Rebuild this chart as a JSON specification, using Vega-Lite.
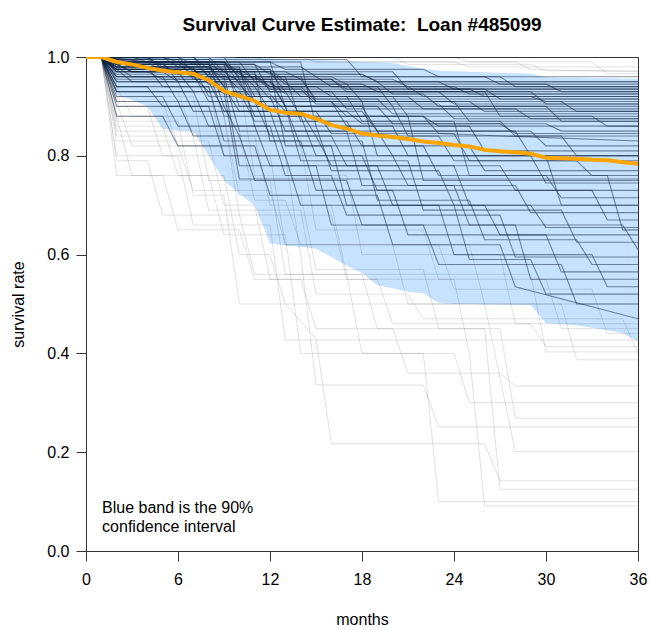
{
"$schema":"https://vega.github.io/schema/vega-lite/v6.json",
"width":552,"height":494,
"autosize":"none",
"padding":{"left":86,"top":57,"right":12,"bottom":79},
"title":{"text":"Survival Curve Estimate:\u00a0 Loan #485099","font":"Liberation Sans","fontSize":19,"fontWeight":"bold","color":"#000","anchor":"middle","frame":"group","baseline":"bottom","offset":-5},
"datasets":{
"band":[
{"m":0,"lo":1,"hi":1},{"m":1,"lo":1,"hi":1},{"m":2,"lo":0.923,"hi":1},{"m":3,"lo":0.913,"hi":1},{"m":4,"lo":0.9,"hi":1},{"m":5,"lo":0.855,"hi":1},{"m":6,"lo":0.851,"hi":1},{"m":7,"lo":0.849,"hi":1},{"m":8,"lo":0.8,"hi":1},{"m":9,"lo":0.75,"hi":0.999},{"m":10,"lo":0.723,"hi":0.998},{"m":11,"lo":0.7,"hi":0.998},{"m":12,"lo":0.623,"hi":0.997},{"m":13,"lo":0.618,"hi":0.996},{"m":14,"lo":0.616,"hi":0.995},{"m":15,"lo":0.612,"hi":0.994},{"m":16,"lo":0.595,"hi":0.993},{"m":17,"lo":0.578,"hi":0.992},{"m":18,"lo":0.563,"hi":0.99},{"m":19,"lo":0.538,"hi":0.989},{"m":20,"lo":0.532,"hi":0.988},{"m":21,"lo":0.525,"hi":0.982},{"m":22,"lo":0.522,"hi":0.976},{"m":23,"lo":0.502,"hi":0.972},{"m":24,"lo":0.5,"hi":0.971},{"m":25,"lo":0.5,"hi":0.97},{"m":26,"lo":0.499,"hi":0.969},{"m":27,"lo":0.499,"hi":0.968},{"m":28,"lo":0.498,"hi":0.967},{"m":29,"lo":0.498,"hi":0.966},{"m":30,"lo":0.461,"hi":0.959},{"m":31,"lo":0.459,"hi":0.958},{"m":32,"lo":0.457,"hi":0.958},{"m":33,"lo":0.452,"hi":0.957},{"m":34,"lo":0.447,"hi":0.957},{"m":35,"lo":0.441,"hi":0.956},{"m":36,"lo":0.424,"hi":0.956}],
"median":[
{"m":0,"s":1},{"m":1,"s":1},{"m":2,"s":0.99},{"m":3,"s":0.985},{"m":4,"s":0.978},{"m":5,"s":0.972},{"m":6,"s":0.969},{"m":7,"s":0.966},{"m":8,"s":0.953},{"m":9,"s":0.931},{"m":10,"s":0.921},{"m":11,"s":0.911},{"m":12,"s":0.893},{"m":13,"s":0.887},{"m":14,"s":0.885},{"m":15,"s":0.875},{"m":16,"s":0.862},{"m":17,"s":0.855},{"m":18,"s":0.845},{"m":19,"s":0.841},{"m":20,"s":0.838},{"m":21,"s":0.834},{"m":22,"s":0.829},{"m":23,"s":0.826},{"m":24,"s":0.822},{"m":25,"s":0.819},{"m":26,"s":0.812},{"m":27,"s":0.809},{"m":28,"s":0.807},{"m":29,"s":0.804},{"m":30,"s":0.796},{"m":31,"s":0.795},{"m":32,"s":0.794},{"m":33,"s":0.792},{"m":34,"s":0.791},{"m":35,"s":0.787},{"m":36,"s":0.784}],
"outer":[
{"c":"O1","m":0,"s":1},{"c":"O1","m":1,"s":1},{"c":"O1","m":2,"s":0.8},{"c":"O1","m":6,"s":0.8},{"c":"O1","m":7,"s":0.66},{"c":"O1","m":12,"s":0.66},{"c":"O1","m":13,"s":0.427},{"c":"O1","m":36,"s":0.427},
{"c":"O2","m":0,"s":1},{"c":"O2","m":1,"s":1},{"c":"O2","m":2,"s":0.86},{"c":"O2","m":5,"s":0.86},{"c":"O2","m":6,"s":0.76},{"c":"O2","m":9,"s":0.76},{"c":"O2","m":10,"s":0.6},{"c":"O2","m":12,"s":0.6},{"c":"O2","m":13,"s":0.5},{"c":"O2","m":15,"s":0.43},{"c":"O2","m":16,"s":0.217},{"c":"O2","m":26,"s":0.217},{"c":"O2","m":27,"s":0.142},{"c":"O2","m":36,"s":0.142},
{"c":"O3","m":0,"s":1},{"c":"O3","m":1,"s":1},{"c":"O3","m":3,"s":0.76},{"c":"O3","m":8,"s":0.76},{"c":"O3","m":9,"s":0.64},{"c":"O3","m":13,"s":0.64},{"c":"O3","m":14,"s":0.4},{"c":"O3","m":22,"s":0.4},{"c":"O3","m":23,"s":0.1},{"c":"O3","m":36,"s":0.1},
{"c":"O4","m":0,"s":1},{"c":"O4","m":1,"s":1},{"c":"O4","m":2,"s":0.9},{"c":"O4","m":4,"s":0.9},{"c":"O4","m":5,"s":0.8},{"c":"O4","m":13,"s":0.8},{"c":"O4","m":14,"s":0.6},{"c":"O4","m":15,"s":0.336},{"c":"O4","m":22,"s":0.336},{"c":"O4","m":23,"s":0.251},{"c":"O4","m":36,"s":0.251},
{"c":"O5","m":0,"s":1},{"c":"O5","m":1,"s":1},{"c":"O5","m":2,"s":0.83},{"c":"O5","m":8,"s":0.83},{"c":"O5","m":9,"s":0.7},{"c":"O5","m":11,"s":0.7},{"c":"O5","m":12,"s":0.55},{"c":"O5","m":19,"s":0.55},{"c":"O5","m":20,"s":0.46},{"c":"O5","m":29,"s":0.46},{"c":"O5","m":30,"s":0.414},{"c":"O5","m":36,"s":0.414},
{"c":"O6","m":0,"s":1},{"c":"O6","m":1,"s":1},{"c":"O6","m":2,"s":0.92},{"c":"O6","m":7,"s":0.92},{"c":"O6","m":8,"s":0.75},{"c":"O6","m":12,"s":0.75},{"c":"O6","m":13,"s":0.56},{"c":"O6","m":17,"s":0.56},{"c":"O6","m":18,"s":0.4},{"c":"O6","m":24,"s":0.4},{"c":"O6","m":25,"s":0.3},{"c":"O6","m":36,"s":0.3},
{"c":"O7","m":0,"s":1},{"c":"O7","m":1,"s":1},{"c":"O7","m":3,"s":0.88},{"c":"O7","m":9,"s":0.88},{"c":"O7","m":10,"s":0.72},{"c":"O7","m":14,"s":0.72},{"c":"O7","m":15,"s":0.57},{"c":"O7","m":22,"s":0.57},{"c":"O7","m":23,"s":0.45},{"c":"O7","m":27,"s":0.45},{"c":"O7","m":28,"s":0.269},{"c":"O7","m":36,"s":0.269},
{"c":"O8","m":0,"s":1},{"c":"O8","m":1,"s":1},{"c":"O8","m":2,"s":0.94},{"c":"O8","m":8,"s":0.94},{"c":"O8","m":9,"s":0.8},{"c":"O8","m":12,"s":0.8},{"c":"O8","m":13,"s":0.62},{"c":"O8","m":20,"s":0.62},{"c":"O8","m":21,"s":0.5},{"c":"O8","m":26,"s":0.5},{"c":"O8","m":28,"s":0.201},{"c":"O8","m":36,"s":0.201},
{"c":"O9","m":0,"s":1},{"c":"O9","m":1,"s":1},{"c":"O9","m":2,"s":0.79},{"c":"O9","m":4,"s":0.79},{"c":"O9","m":5,"s":0.68},{"c":"O9","m":10,"s":0.68},{"c":"O9","m":11,"s":0.56},{"c":"O9","m":18,"s":0.56},{"c":"O9","m":19,"s":0.45},{"c":"O9","m":26,"s":0.45},{"c":"O9","m":27,"s":0.125},{"c":"O9","m":36,"s":0.125},
{"c":"O10","m":0,"s":1},{"c":"O10","m":1,"s":1},{"c":"O10","m":2,"s":0.88},{"c":"O10","m":9,"s":0.88},{"c":"O10","m":10,"s":0.68},{"c":"O10","m":16,"s":0.68},{"c":"O10","m":17,"s":0.55},{"c":"O10","m":24,"s":0.55},{"c":"O10","m":25,"s":0.4},{"c":"O10","m":26,"s":0.091},{"c":"O10","m":36,"s":0.091},
{"c":"O11","m":0,"s":1},{"c":"O11","m":1,"s":1},{"c":"O11","m":2,"s":0.93},{"c":"O11","m":6,"s":0.93},{"c":"O11","m":7,"s":0.84},{"c":"O11","m":11,"s":0.84},{"c":"O11","m":12,"s":0.7},{"c":"O11","m":16,"s":0.7},{"c":"O11","m":17,"s":0.56},{"c":"O11","m":29,"s":0.56},{"c":"O11","m":30,"s":0.403},{"c":"O11","m":36,"s":0.403},
{"c":"O12","m":0,"s":1},{"c":"O12","m":1,"s":1},{"c":"O12","m":2,"s":0.85},{"c":"O12","m":10,"s":0.85},{"c":"O12","m":11,"s":0.71},{"c":"O12","m":13,"s":0.71},{"c":"O12","m":14,"s":0.62},{"c":"O12","m":25,"s":0.62},{"c":"O12","m":26,"s":0.5},{"c":"O12","m":31,"s":0.5},{"c":"O12","m":32,"s":0.387},{"c":"O12","m":36,"s":0.387},
{"c":"O13","m":0,"s":1},{"c":"O13","m":1,"s":1},{"c":"O13","m":3,"s":0.82},{"c":"O13","m":6,"s":0.82},{"c":"O13","m":7,"s":0.73},{"c":"O13","m":12,"s":0.73},{"c":"O13","m":13,"s":0.62},{"c":"O13","m":23,"s":0.62},{"c":"O13","m":24,"s":0.53},{"c":"O13","m":33,"s":0.53},{"c":"O13","m":34,"s":0.44},{"c":"O13","m":36,"s":0.44},
{"c":"O14","m":0,"s":1},{"c":"O14","m":1,"s":1},{"c":"O14","m":2,"s":0.87},{"c":"O14","m":6,"s":0.87},{"c":"O14","m":7,"s":0.72},{"c":"O14","m":9,"s":0.72},{"c":"O14","m":10,"s":0.5},{"c":"O14","m":36,"s":0.5},
{"c":"O15","m":0,"s":1},{"c":"O15","m":1,"s":1},{"c":"O15","m":2,"s":0.76},{"c":"O15","m":5,"s":0.76},{"c":"O15","m":6,"s":0.65},{"c":"O15","m":10,"s":0.65},{"c":"O15","m":11,"s":0.55},{"c":"O15","m":14,"s":0.55},{"c":"O15","m":15,"s":0.45},{"c":"O15","m":20,"s":0.45},{"c":"O15","m":21,"s":0.36},{"c":"O15","m":27,"s":0.36},{"c":"O15","m":28,"s":0.334},{"c":"O15","m":36,"s":0.334},
{"c":"O16","m":0,"s":1},{"c":"O16","m":1,"s":1},{"c":"O16","m":2,"s":0.91},{"c":"O16","m":5,"s":0.91},{"c":"O16","m":6,"s":0.82},{"c":"O16","m":14,"s":0.82},{"c":"O16","m":15,"s":0.65},{"c":"O16","m":22,"s":0.65},{"c":"O16","m":23,"s":0.55},{"c":"O16","m":30,"s":0.55},{"c":"O16","m":31,"s":0.45},{"c":"O16","m":36,"s":0.45},
{"c":"O17","m":0,"s":1},{"c":"O17","m":1,"s":1},{"c":"O17","m":2,"s":0.84},{"c":"O17","m":7,"s":0.84},{"c":"O17","m":8,"s":0.69},{"c":"O17","m":14,"s":0.69},{"c":"O17","m":15,"s":0.52},{"c":"O17","m":21,"s":0.52},{"c":"O17","m":22,"s":0.47},{"c":"O17","m":35,"s":0.47},{"c":"O17","m":36,"s":0.4},
{"c":"O18","m":0,"s":1},{"c":"O18","m":1,"s":1},{"c":"O18","m":2,"s":0.95},{"c":"O18","m":10,"s":0.95},{"c":"O18","m":11,"s":0.76},{"c":"O18","m":17,"s":0.76},{"c":"O18","m":18,"s":0.6},{"c":"O18","m":27,"s":0.6},{"c":"O18","m":28,"s":0.46},{"c":"O18","m":36,"s":0.46},
{"c":"U1","m":0,"s":1},{"c":"U1","m":1,"s":1},{"c":"U1","m":14,"s":1},{"c":"U1","m":15,"s":0.99},{"c":"U1","m":24,"s":0.99},{"c":"U1","m":25,"s":0.98},{"c":"U1","m":36,"s":0.98},
{"c":"U2","m":0,"s":1},{"c":"U2","m":1,"s":1},{"c":"U2","m":20,"s":1},{"c":"U2","m":21,"s":0.985},{"c":"U2","m":29,"s":0.985},{"c":"U2","m":30,"s":0.972},{"c":"U2","m":36,"s":0.972},
{"c":"U3","m":0,"s":1},{"c":"U3","m":1,"s":1},{"c":"U3","m":11,"s":1},{"c":"U3","m":12,"s":0.99},{"c":"U3","m":28,"s":0.99},{"c":"U3","m":29,"s":0.975},{"c":"U3","m":36,"s":0.97},
{"c":"U4","m":0,"s":1},{"c":"U4","m":1,"s":1},{"c":"U4","m":24,"s":1},{"c":"U4","m":25,"s":0.99},{"c":"U4","m":33,"s":0.99},{"c":"U4","m":34,"s":0.966},{"c":"U4","m":36,"s":0.966}],
"inner":[
{"c":"I1","m":0,"s":1},{"c":"I1","m":1,"s":1},{"c":"I1","m":3,"s":1},{"c":"I1","m":4,"s":0.99},{"c":"I1","m":12,"s":0.99},{"c":"I1","m":13,"s":0.975},{"c":"I1","m":22,"s":0.975},{"c":"I1","m":23,"s":0.96},{"c":"I1","m":36,"s":0.96},
{"c":"I2","m":0,"s":1},{"c":"I2","m":1,"s":1},{"c":"I2","m":2,"s":0.985},{"c":"I2","m":9,"s":0.985},{"c":"I2","m":10,"s":0.965},{"c":"I2","m":18,"s":0.965},{"c":"I2","m":19,"s":0.95},{"c":"I2","m":36,"s":0.95},
{"c":"I3","m":0,"s":1},{"c":"I3","m":1,"s":1},{"c":"I3","m":5,"s":1},{"c":"I3","m":6,"s":0.98},{"c":"I3","m":14,"s":0.98},{"c":"I3","m":15,"s":0.96},{"c":"I3","m":27,"s":0.96},{"c":"I3","m":28,"s":0.94},{"c":"I3","m":36,"s":0.94},
{"c":"I4","m":0,"s":1},{"c":"I4","m":1,"s":1},{"c":"I4","m":2,"s":0.99},{"c":"I4","m":7,"s":0.99},{"c":"I4","m":8,"s":0.96},{"c":"I4","m":16,"s":0.96},{"c":"I4","m":17,"s":0.945},{"c":"I4","m":30,"s":0.945},{"c":"I4","m":31,"s":0.93},{"c":"I4","m":36,"s":0.93},
{"c":"I5","m":0,"s":1},{"c":"I5","m":1,"s":1},{"c":"I5","m":8,"s":1},{"c":"I5","m":9,"s":0.97},{"c":"I5","m":20,"s":0.97},{"c":"I5","m":21,"s":0.935},{"c":"I5","m":36,"s":0.935},
{"c":"I6","m":0,"s":1},{"c":"I6","m":1,"s":1},{"c":"I6","m":2,"s":0.975},{"c":"I6","m":6,"s":0.975},{"c":"I6","m":7,"s":0.96},{"c":"I6","m":11,"s":0.96},{"c":"I6","m":12,"s":0.935},{"c":"I6","m":25,"s":0.935},{"c":"I6","m":26,"s":0.92},{"c":"I6","m":36,"s":0.92},
{"c":"I7","m":0,"s":1},{"c":"I7","m":1,"s":1},{"c":"I7","m":3,"s":0.99},{"c":"I7","m":10,"s":0.99},{"c":"I7","m":11,"s":0.95},{"c":"I7","m":19,"s":0.95},{"c":"I7","m":20,"s":0.925},{"c":"I7","m":36,"s":0.925},
{"c":"I8","m":0,"s":1},{"c":"I8","m":1,"s":1},{"c":"I8","m":2,"s":0.98},{"c":"I8","m":8,"s":0.98},{"c":"I8","m":9,"s":0.94},{"c":"I8","m":15,"s":0.94},{"c":"I8","m":16,"s":0.92},{"c":"I8","m":29,"s":0.92},{"c":"I8","m":30,"s":0.91},{"c":"I8","m":36,"s":0.91},
{"c":"I9","m":0,"s":1},{"c":"I9","m":1,"s":1},{"c":"I9","m":6,"s":1},{"c":"I9","m":7,"s":0.97},{"c":"I9","m":12,"s":0.97},{"c":"I9","m":13,"s":0.93},{"c":"I9","m":23,"s":0.93},{"c":"I9","m":24,"s":0.905},{"c":"I9","m":36,"s":0.905},
{"c":"I10","m":0,"s":1},{"c":"I10","m":1,"s":1},{"c":"I10","m":2,"s":0.97},{"c":"I10","m":5,"s":0.97},{"c":"I10","m":6,"s":0.95},{"c":"I10","m":13,"s":0.95},{"c":"I10","m":14,"s":0.92},{"c":"I10","m":21,"s":0.92},{"c":"I10","m":22,"s":0.895},{"c":"I10","m":36,"s":0.895},
{"c":"I11","m":0,"s":1},{"c":"I11","m":1,"s":1},{"c":"I11","m":4,"s":0.99},{"c":"I11","m":9,"s":0.99},{"c":"I11","m":10,"s":0.945},{"c":"I11","m":17,"s":0.945},{"c":"I11","m":18,"s":0.91},{"c":"I11","m":31,"s":0.91},{"c":"I11","m":32,"s":0.89},{"c":"I11","m":36,"s":0.89},
{"c":"I12","m":0,"s":1},{"c":"I12","m":1,"s":1},{"c":"I12","m":2,"s":0.985},{"c":"I12","m":11,"s":0.985},{"c":"I12","m":12,"s":0.93},{"c":"I12","m":26,"s":0.93},{"c":"I12","m":27,"s":0.88},{"c":"I12","m":36,"s":0.88},
{"c":"I13","m":0,"s":1},{"c":"I13","m":1,"s":1},{"c":"I13","m":3,"s":0.97},{"c":"I13","m":8,"s":0.97},{"c":"I13","m":9,"s":0.93},{"c":"I13","m":16,"s":0.93},{"c":"I13","m":17,"s":0.895},{"c":"I13","m":28,"s":0.895},{"c":"I13","m":29,"s":0.875},{"c":"I13","m":36,"s":0.875},
{"c":"I14","m":0,"s":1},{"c":"I14","m":1,"s":1},{"c":"I14","m":7,"s":1},{"c":"I14","m":8,"s":0.96},{"c":"I14","m":14,"s":0.96},{"c":"I14","m":15,"s":0.91},{"c":"I14","m":24,"s":0.91},{"c":"I14","m":25,"s":0.87},{"c":"I14","m":36,"s":0.87},
{"c":"I15","m":0,"s":1},{"c":"I15","m":1,"s":1},{"c":"I15","m":2,"s":0.975},{"c":"I15","m":9,"s":0.975},{"c":"I15","m":10,"s":0.92},{"c":"I15","m":20,"s":0.92},{"c":"I15","m":21,"s":0.88},{"c":"I15","m":33,"s":0.88},{"c":"I15","m":34,"s":0.86},{"c":"I15","m":36,"s":0.86},
{"c":"I16","m":0,"s":1},{"c":"I16","m":1,"s":1},{"c":"I16","m":2,"s":0.99},{"c":"I16","m":5,"s":0.99},{"c":"I16","m":6,"s":0.95},{"c":"I16","m":12,"s":0.95},{"c":"I16","m":13,"s":0.9},{"c":"I16","m":19,"s":0.9},{"c":"I16","m":20,"s":0.865},{"c":"I16","m":30,"s":0.865},{"c":"I16","m":31,"s":0.85},{"c":"I16","m":36,"s":0.85},
{"c":"I17","m":0,"s":1},{"c":"I17","m":1,"s":1},{"c":"I17","m":4,"s":1},{"c":"I17","m":5,"s":0.975},{"c":"I17","m":10,"s":0.975},{"c":"I17","m":11,"s":0.92},{"c":"I17","m":17,"s":0.92},{"c":"I17","m":18,"s":0.87},{"c":"I17","m":27,"s":0.87},{"c":"I17","m":28,"s":0.84},{"c":"I17","m":36,"s":0.84},
{"c":"I18","m":0,"s":1},{"c":"I18","m":1,"s":1},{"c":"I18","m":2,"s":0.96},{"c":"I18","m":7,"s":0.96},{"c":"I18","m":8,"s":0.93},{"c":"I18","m":13,"s":0.93},{"c":"I18","m":14,"s":0.88},{"c":"I18","m":22,"s":0.88},{"c":"I18","m":23,"s":0.845},{"c":"I18","m":36,"s":0.83},
{"c":"I19","m":0,"s":1},{"c":"I19","m":1,"s":1},{"c":"I19","m":3,"s":0.985},{"c":"I19","m":8,"s":0.985},{"c":"I19","m":9,"s":0.94},{"c":"I19","m":11,"s":0.94},{"c":"I19","m":12,"s":0.89},{"c":"I19","m":18,"s":0.89},{"c":"I19","m":19,"s":0.85},{"c":"I19","m":29,"s":0.85},{"c":"I19","m":30,"s":0.82},{"c":"I19","m":36,"s":0.82},
{"c":"I20","m":0,"s":1},{"c":"I20","m":1,"s":1},{"c":"I20","m":2,"s":0.97},{"c":"I20","m":10,"s":0.97},{"c":"I20","m":11,"s":0.91},{"c":"I20","m":16,"s":0.91},{"c":"I20","m":17,"s":0.86},{"c":"I20","m":25,"s":0.86},{"c":"I20","m":26,"s":0.81},{"c":"I20","m":36,"s":0.81},
{"c":"I21","m":0,"s":1},{"c":"I21","m":1,"s":1},{"c":"I21","m":6,"s":0.995},{"c":"I21","m":7,"s":0.955},{"c":"I21","m":12,"s":0.955},{"c":"I21","m":13,"s":0.9},{"c":"I21","m":20,"s":0.9},{"c":"I21","m":21,"s":0.84},{"c":"I21","m":31,"s":0.84},{"c":"I21","m":32,"s":0.8},{"c":"I21","m":36,"s":0.8},
{"c":"I22","m":0,"s":1},{"c":"I22","m":1,"s":1},{"c":"I22","m":2,"s":0.98},{"c":"I22","m":4,"s":0.98},{"c":"I22","m":5,"s":0.94},{"c":"I22","m":9,"s":0.94},{"c":"I22","m":10,"s":0.89},{"c":"I22","m":15,"s":0.89},{"c":"I22","m":16,"s":0.845},{"c":"I22","m":24,"s":0.845},{"c":"I22","m":25,"s":0.79},{"c":"I22","m":36,"s":0.79},
{"c":"I23","m":0,"s":1},{"c":"I23","m":1,"s":1},{"c":"I23","m":2,"s":0.99},{"c":"I23","m":12,"s":0.99},{"c":"I23","m":13,"s":0.9},{"c":"I23","m":18,"s":0.9},{"c":"I23","m":19,"s":0.85},{"c":"I23","m":28,"s":0.85},{"c":"I23","m":29,"s":0.8},{"c":"I23","m":36,"s":0.8},
{"c":"I24","m":0,"s":1},{"c":"I24","m":1,"s":1},{"c":"I24","m":9,"s":1},{"c":"I24","m":10,"s":0.955},{"c":"I24","m":14,"s":0.955},{"c":"I24","m":15,"s":0.915},{"c":"I24","m":36,"s":0.915},
{"c":"I25","m":0,"s":1},{"c":"I25","m":1,"s":1},{"c":"I25","m":2,"s":0.995},{"c":"I25","m":17,"s":0.995},{"c":"I25","m":18,"s":0.96},{"c":"I25","m":26,"s":0.96},{"c":"I25","m":27,"s":0.945},{"c":"I25","m":36,"s":0.945},
{"c":"K1","m":0,"s":1},{"c":"K1","m":1,"s":1},{"c":"K1","m":2,"s":0.995},{"c":"K1","m":4,"s":0.995},{"c":"K1","m":5,"s":0.985},{"c":"K1","m":8,"s":0.985},{"c":"K1","m":9,"s":0.97},{"c":"K1","m":13,"s":0.97},{"c":"K1","m":14,"s":0.955},{"c":"K1","m":20,"s":0.955},{"c":"K1","m":21,"s":0.94},{"c":"K1","m":36,"s":0.94},
{"c":"K2","m":0,"s":1},{"c":"K2","m":1,"s":1},{"c":"K2","m":3,"s":0.99},{"c":"K2","m":6,"s":0.99},{"c":"K2","m":7,"s":0.975},{"c":"K2","m":10,"s":0.975},{"c":"K2","m":11,"s":0.955},{"c":"K2","m":16,"s":0.955},{"c":"K2","m":17,"s":0.935},{"c":"K2","m":26,"s":0.935},{"c":"K2","m":27,"s":0.915},{"c":"K2","m":36,"s":0.915},
{"c":"K3","m":0,"s":1},{"c":"K3","m":1,"s":1},{"c":"K3","m":2,"s":0.98},{"c":"K3","m":5,"s":0.98},{"c":"K3","m":6,"s":0.97},{"c":"K3","m":9,"s":0.97},{"c":"K3","m":10,"s":0.95},{"c":"K3","m":12,"s":0.95},{"c":"K3","m":13,"s":0.925},{"c":"K3","m":22,"s":0.925},{"c":"K3","m":23,"s":0.9},{"c":"K3","m":36,"s":0.9},
{"c":"K4","m":0,"s":1},{"c":"K4","m":1,"s":1},{"c":"K4","m":5,"s":1},{"c":"K4","m":6,"s":0.99},{"c":"K4","m":9,"s":0.99},{"c":"K4","m":10,"s":0.96},{"c":"K4","m":15,"s":0.96},{"c":"K4","m":16,"s":0.94},{"c":"K4","m":24,"s":0.94},{"c":"K4","m":25,"s":0.925},{"c":"K4","m":36,"s":0.925},
{"c":"K5","m":0,"s":1},{"c":"K5","m":1,"s":1},{"c":"K5","m":2,"s":0.99},{"c":"K5","m":3,"s":0.99},{"c":"K5","m":4,"s":0.975},{"c":"K5","m":7,"s":0.975},{"c":"K5","m":8,"s":0.95},{"c":"K5","m":11,"s":0.95},{"c":"K5","m":12,"s":0.915},{"c":"K5","m":19,"s":0.915},{"c":"K5","m":20,"s":0.885},{"c":"K5","m":36,"s":0.885},
{"c":"K6","m":0,"s":1},{"c":"K6","m":1,"s":1},{"c":"K6","m":6,"s":1},{"c":"K6","m":7,"s":0.985},{"c":"K6","m":11,"s":0.985},{"c":"K6","m":12,"s":0.965},{"c":"K6","m":18,"s":0.965},{"c":"K6","m":19,"s":0.95},{"c":"K6","m":36,"s":0.95},
{"c":"K7","m":0,"s":1},{"c":"K7","m":1,"s":1},{"c":"K7","m":2,"s":0.97},{"c":"K7","m":4,"s":0.97},{"c":"K7","m":5,"s":0.955},{"c":"K7","m":8,"s":0.955},{"c":"K7","m":9,"s":0.925},{"c":"K7","m":12,"s":0.925},{"c":"K7","m":13,"s":0.89},{"c":"K7","m":17,"s":0.89},{"c":"K7","m":18,"s":0.865},{"c":"K7","m":27,"s":0.865},{"c":"K7","m":28,"s":0.845},{"c":"K7","m":36,"s":0.845},
{"c":"K8","m":0,"s":1},{"c":"K8","m":1,"s":1},{"c":"K8","m":3,"s":0.995},{"c":"K8","m":8,"s":0.995},{"c":"K8","m":9,"s":0.96},{"c":"K8","m":11,"s":0.96},{"c":"K8","m":12,"s":0.94},{"c":"K8","m":21,"s":0.94},{"c":"K8","m":22,"s":0.92},{"c":"K8","m":36,"s":0.92},
{"c":"K9","m":0,"s":1},{"c":"K9","m":1,"s":1},{"c":"K9","m":2,"s":0.985},{"c":"K9","m":6,"s":0.985},{"c":"K9","m":7,"s":0.965},{"c":"K9","m":9,"s":0.965},{"c":"K9","m":10,"s":0.935},{"c":"K9","m":14,"s":0.935},{"c":"K9","m":15,"s":0.905},{"c":"K9","m":23,"s":0.905},{"c":"K9","m":24,"s":0.875},{"c":"K9","m":36,"s":0.875},
{"c":"K10","m":0,"s":1},{"c":"K10","m":1,"s":1},{"c":"K10","m":4,"s":1},{"c":"K10","m":5,"s":0.98},{"c":"K10","m":8,"s":0.98},{"c":"K10","m":9,"s":0.955},{"c":"K10","m":16,"s":0.955},{"c":"K10","m":17,"s":0.93},{"c":"K10","m":29,"s":0.93},{"c":"K10","m":30,"s":0.905},{"c":"K10","m":36,"s":0.905},
{"c":"K11","m":0,"s":1},{"c":"K11","m":1,"s":1},{"c":"K11","m":2,"s":0.99},{"c":"K11","m":9,"s":0.99},{"c":"K11","m":10,"s":0.97},{"c":"K11","m":12,"s":0.97},{"c":"K11","m":13,"s":0.945},{"c":"K11","m":18,"s":0.945},{"c":"K11","m":19,"s":0.93},{"c":"K11","m":36,"s":0.93},
{"c":"K12","m":0,"s":1},{"c":"K12","m":1,"s":1},{"c":"K12","m":2,"s":0.975},{"c":"K12","m":7,"s":0.975},{"c":"K12","m":8,"s":0.945},{"c":"K12","m":10,"s":0.945},{"c":"K12","m":11,"s":0.91},{"c":"K12","m":16,"s":0.91},{"c":"K12","m":17,"s":0.88},{"c":"K12","m":22,"s":0.88},{"c":"K12","m":23,"s":0.86},{"c":"K12","m":36,"s":0.86},
{"c":"K13","m":0,"s":1},{"c":"K13","m":1,"s":1},{"c":"K13","m":3,"s":0.985},{"c":"K13","m":5,"s":0.985},{"c":"K13","m":6,"s":0.965},{"c":"K13","m":11,"s":0.965},{"c":"K13","m":12,"s":0.94},{"c":"K13","m":14,"s":0.94},{"c":"K13","m":15,"s":0.91},{"c":"K13","m":25,"s":0.91},{"c":"K13","m":26,"s":0.89},{"c":"K13","m":36,"s":0.89},
{"c":"K14","m":0,"s":1},{"c":"K14","m":1,"s":1},{"c":"K14","m":7,"s":1},{"c":"K14","m":8,"s":0.975},{"c":"K14","m":12,"s":0.975},{"c":"K14","m":13,"s":0.95},{"c":"K14","m":23,"s":0.95},{"c":"K14","m":24,"s":0.935},{"c":"K14","m":36,"s":0.935},
{"c":"K15","m":0,"s":1},{"c":"K15","m":1,"s":1},{"c":"K15","m":2,"s":0.99},{"c":"K15","m":4,"s":0.99},{"c":"K15","m":5,"s":0.97},{"c":"K15","m":10,"s":0.97},{"c":"K15","m":11,"s":0.94},{"c":"K15","m":19,"s":0.94},{"c":"K15","m":20,"s":0.9},{"c":"K15","m":30,"s":0.9},{"c":"K15","m":31,"s":0.87},{"c":"K15","m":36,"s":0.87},
{"c":"J1","m":0,"s":1},{"c":"J1","m":1,"s":1},{"c":"J1","m":2,"s":0.97},{"c":"J1","m":6,"s":0.97},{"c":"J1","m":7,"s":0.93},{"c":"J1","m":10,"s":0.93},{"c":"J1","m":11,"s":0.87},{"c":"J1","m":17,"s":0.87},{"c":"J1","m":18,"s":0.82},{"c":"J1","m":25,"s":0.82},{"c":"J1","m":26,"s":0.77},{"c":"J1","m":36,"s":0.77},
{"c":"J2","m":0,"s":1},{"c":"J2","m":1,"s":1},{"c":"J2","m":2,"s":0.95},{"c":"J2","m":8,"s":0.95},{"c":"J2","m":9,"s":0.89},{"c":"J2","m":14,"s":0.89},{"c":"J2","m":15,"s":0.84},{"c":"J2","m":23,"s":0.84},{"c":"J2","m":24,"s":0.79},{"c":"J2","m":32,"s":0.79},{"c":"J2","m":33,"s":0.76},{"c":"J2","m":36,"s":0.76},
{"c":"J3","m":0,"s":1},{"c":"J3","m":1,"s":1},{"c":"J3","m":3,"s":0.98},{"c":"J3","m":7,"s":0.98},{"c":"J3","m":8,"s":0.92},{"c":"J3","m":12,"s":0.92},{"c":"J3","m":13,"s":0.85},{"c":"J3","m":19,"s":0.85},{"c":"J3","m":20,"s":0.8},{"c":"J3","m":29,"s":0.8},{"c":"J3","m":30,"s":0.745},{"c":"J3","m":36,"s":0.745},
{"c":"J4","m":0,"s":1},{"c":"J4","m":1,"s":1},{"c":"J4","m":2,"s":0.96},{"c":"J4","m":5,"s":0.96},{"c":"J4","m":6,"s":0.91},{"c":"J4","m":11,"s":0.91},{"c":"J4","m":12,"s":0.84},{"c":"J4","m":16,"s":0.84},{"c":"J4","m":17,"s":0.78},{"c":"J4","m":27,"s":0.78},{"c":"J4","m":28,"s":0.73},{"c":"J4","m":36,"s":0.73},
{"c":"J5","m":0,"s":1},{"c":"J5","m":1,"s":1},{"c":"J5","m":2,"s":0.985},{"c":"J5","m":9,"s":0.985},{"c":"J5","m":10,"s":0.9},{"c":"J5","m":13,"s":0.9},{"c":"J5","m":14,"s":0.82},{"c":"J5","m":22,"s":0.82},{"c":"J5","m":23,"s":0.76},{"c":"J5","m":30,"s":0.76},{"c":"J5","m":31,"s":0.715},{"c":"J5","m":36,"s":0.715},
{"c":"J6","m":0,"s":1},{"c":"J6","m":1,"s":1},{"c":"J6","m":2,"s":0.94},{"c":"J6","m":4,"s":0.94},{"c":"J6","m":5,"s":0.9},{"c":"J6","m":9,"s":0.9},{"c":"J6","m":10,"s":0.84},{"c":"J6","m":15,"s":0.84},{"c":"J6","m":16,"s":0.78},{"c":"J6","m":24,"s":0.78},{"c":"J6","m":25,"s":0.7},{"c":"J6","m":36,"s":0.7},
{"c":"J7","m":0,"s":1},{"c":"J7","m":1,"s":1},{"c":"J7","m":3,"s":0.97},{"c":"J7","m":8,"s":0.97},{"c":"J7","m":9,"s":0.88},{"c":"J7","m":14,"s":0.88},{"c":"J7","m":15,"s":0.8},{"c":"J7","m":20,"s":0.8},{"c":"J7","m":21,"s":0.74},{"c":"J7","m":28,"s":0.74},{"c":"J7","m":29,"s":0.685},{"c":"J7","m":36,"s":0.685},
{"c":"J8","m":0,"s":1},{"c":"J8","m":1,"s":1},{"c":"J8","m":2,"s":0.95},{"c":"J8","m":6,"s":0.95},{"c":"J8","m":7,"s":0.89},{"c":"J8","m":12,"s":0.89},{"c":"J8","m":13,"s":0.8},{"c":"J8","m":18,"s":0.8},{"c":"J8","m":19,"s":0.73},{"c":"J8","m":33,"s":0.73},{"c":"J8","m":34,"s":0.67},{"c":"J8","m":36,"s":0.67},
{"c":"J9","m":0,"s":1},{"c":"J9","m":1,"s":1},{"c":"J9","m":2,"s":0.98},{"c":"J9","m":10,"s":0.98},{"c":"J9","m":11,"s":0.86},{"c":"J9","m":15,"s":0.86},{"c":"J9","m":16,"s":0.77},{"c":"J9","m":23,"s":0.77},{"c":"J9","m":24,"s":0.7},{"c":"J9","m":29,"s":0.7},{"c":"J9","m":30,"s":0.655},{"c":"J9","m":36,"s":0.655},
{"c":"J10","m":0,"s":1},{"c":"J10","m":1,"s":1},{"c":"J10","m":2,"s":0.93},{"c":"J10","m":7,"s":0.93},{"c":"J10","m":8,"s":0.86},{"c":"J10","m":11,"s":0.86},{"c":"J10","m":12,"s":0.78},{"c":"J10","m":19,"s":0.78},{"c":"J10","m":20,"s":0.7},{"c":"J10","m":26,"s":0.7},{"c":"J10","m":27,"s":0.64},{"c":"J10","m":36,"s":0.64},
{"c":"J11","m":0,"s":1},{"c":"J11","m":1,"s":1},{"c":"J11","m":4,"s":0.99},{"c":"J11","m":8,"s":0.99},{"c":"J11","m":9,"s":0.9},{"c":"J11","m":13,"s":0.9},{"c":"J11","m":14,"s":0.79},{"c":"J11","m":21,"s":0.79},{"c":"J11","m":22,"s":0.69},{"c":"J11","m":31,"s":0.69},{"c":"J11","m":32,"s":0.625},{"c":"J11","m":36,"s":0.625},
{"c":"J12","m":0,"s":1},{"c":"J12","m":1,"s":1},{"c":"J12","m":2,"s":0.96},{"c":"J12","m":9,"s":0.96},{"c":"J12","m":10,"s":0.85},{"c":"J12","m":17,"s":0.85},{"c":"J12","m":18,"s":0.74},{"c":"J12","m":24,"s":0.74},{"c":"J12","m":25,"s":0.66},{"c":"J12","m":35,"s":0.66},{"c":"J12","m":36,"s":0.61},
{"c":"J13","m":0,"s":1},{"c":"J13","m":1,"s":1},{"c":"J13","m":2,"s":0.92},{"c":"J13","m":5,"s":0.92},{"c":"J13","m":6,"s":0.86},{"c":"J13","m":12,"s":0.86},{"c":"J13","m":13,"s":0.76},{"c":"J13","m":16,"s":0.76},{"c":"J13","m":17,"s":0.68},{"c":"J13","m":27,"s":0.68},{"c":"J13","m":28,"s":0.595},{"c":"J13","m":36,"s":0.595},
{"c":"J14","m":0,"s":1},{"c":"J14","m":1,"s":1},{"c":"J14","m":3,"s":0.97},{"c":"J14","m":11,"s":0.97},{"c":"J14","m":12,"s":0.83},{"c":"J14","m":18,"s":0.83},{"c":"J14","m":19,"s":0.71},{"c":"J14","m":25,"s":0.71},{"c":"J14","m":26,"s":0.63},{"c":"J14","m":32,"s":0.63},{"c":"J14","m":33,"s":0.58},{"c":"J14","m":36,"s":0.58},
{"c":"J15","m":0,"s":1},{"c":"J15","m":1,"s":1},{"c":"J15","m":2,"s":0.94},{"c":"J15","m":8,"s":0.94},{"c":"J15","m":9,"s":0.83},{"c":"J15","m":14,"s":0.83},{"c":"J15","m":15,"s":0.73},{"c":"J15","m":20,"s":0.73},{"c":"J15","m":21,"s":0.64},{"c":"J15","m":30,"s":0.64},{"c":"J15","m":31,"s":0.565},{"c":"J15","m":36,"s":0.565},
{"c":"J16","m":0,"s":1},{"c":"J16","m":1,"s":1},{"c":"J16","m":2,"s":0.91},{"c":"J16","m":6,"s":0.91},{"c":"J16","m":7,"s":0.84},{"c":"J16","m":10,"s":0.84},{"c":"J16","m":11,"s":0.75},{"c":"J16","m":17,"s":0.75},{"c":"J16","m":18,"s":0.66},{"c":"J16","m":28,"s":0.66},{"c":"J16","m":29,"s":0.55},{"c":"J16","m":36,"s":0.55},
{"c":"J17","m":0,"s":1},{"c":"J17","m":1,"s":1},{"c":"J17","m":2,"s":0.975},{"c":"J17","m":12,"s":0.975},{"c":"J17","m":13,"s":0.82},{"c":"J17","m":16,"s":0.82},{"c":"J17","m":17,"s":0.7},{"c":"J17","m":23,"s":0.7},{"c":"J17","m":24,"s":0.6},{"c":"J17","m":33,"s":0.6},{"c":"J17","m":34,"s":0.535},{"c":"J17","m":36,"s":0.535},
{"c":"J18","m":0,"s":1},{"c":"J18","m":1,"s":1},{"c":"J18","m":2,"s":0.9},{"c":"J18","m":8,"s":0.9},{"c":"J18","m":9,"s":0.8},{"c":"J18","m":13,"s":0.8},{"c":"J18","m":14,"s":0.7},{"c":"J18","m":24,"s":0.7},{"c":"J18","m":25,"s":0.59},{"c":"J18","m":29,"s":0.59},{"c":"J18","m":30,"s":0.52},{"c":"J18","m":36,"s":0.52},
{"c":"J19","m":0,"s":1},{"c":"J19","m":1,"s":1},{"c":"J19","m":3,"s":0.95},{"c":"J19","m":9,"s":0.95},{"c":"J19","m":10,"s":0.78},{"c":"J19","m":15,"s":0.78},{"c":"J19","m":16,"s":0.66},{"c":"J19","m":22,"s":0.66},{"c":"J19","m":23,"s":0.58},{"c":"J19","m":31,"s":0.58},{"c":"J19","m":32,"s":0.5},{"c":"J19","m":36,"s":0.5},
{"c":"J20","m":0,"s":1},{"c":"J20","m":1,"s":1},{"c":"J20","m":2,"s":0.88},{"c":"J20","m":5,"s":0.88},{"c":"J20","m":6,"s":0.82},{"c":"J20","m":11,"s":0.82},{"c":"J20","m":12,"s":0.72},{"c":"J20","m":19,"s":0.72},{"c":"J20","m":20,"s":0.62},{"c":"J20","m":27,"s":0.62},{"c":"J20","m":28,"s":0.535},{"c":"J20","m":36,"s":0.47},
{"c":"J21","m":0,"s":1},{"c":"J21","m":1,"s":1},{"c":"J21","m":2,"s":0.99},{"c":"J21","m":14,"s":0.99},{"c":"J21","m":15,"s":0.86},{"c":"J21","m":20,"s":0.86},{"c":"J21","m":21,"s":0.8},{"c":"J21","m":36,"s":0.8},
{"c":"J22","m":0,"s":1},{"c":"J22","m":1,"s":1},{"c":"J22","m":2,"s":0.955},{"c":"J22","m":10,"s":0.955},{"c":"J22","m":11,"s":0.88},{"c":"J22","m":21,"s":0.88},{"c":"J22","m":22,"s":0.75},{"c":"J22","m":36,"s":0.75},
{"c":"J23","m":0,"s":1},{"c":"J23","m":1,"s":1},{"c":"J23","m":2,"s":0.965},{"c":"J23","m":7,"s":0.965},{"c":"J23","m":8,"s":0.91},{"c":"J23","m":18,"s":0.91},{"c":"J23","m":19,"s":0.8},{"c":"J23","m":30,"s":0.8},{"c":"J23","m":31,"s":0.7},{"c":"J23","m":36,"s":0.7},
{"c":"J24","m":0,"s":1},{"c":"J24","m":1,"s":1},{"c":"J24","m":2,"s":0.93},{"c":"J24","m":9,"s":0.93},{"c":"J24","m":10,"s":0.753},{"c":"J24","m":36,"s":0.753},
{"c":"J25","m":0,"s":1},{"c":"J25","m":1,"s":1},{"c":"J25","m":3,"s":0.96},{"c":"J25","m":13,"s":0.96},{"c":"J25","m":14,"s":0.87},{"c":"J25","m":24,"s":0.87},{"c":"J25","m":25,"s":0.76},{"c":"J25","m":34,"s":0.76},{"c":"J25","m":35,"s":0.65},{"c":"J25","m":36,"s":0.65}]
},
"layer":[
{"data":{"name":"band"},"mark":{"type":"area","color":"#c6e2ff","opacity":1,"clip":true},
"encoding":{
"x":{"field":"m","type":"quantitative","scale":{"domain":[0,36],"nice":false,"zero":false},"axis":{"values":[0,6,12,18,24,30,36],"title":"months","labelPadding":10,"titlePadding":24}},
"y":{"field":"lo","type":"quantitative","scale":{"domain":[0,1],"nice":false,"zero":false},"axis":{"values":[0,0.2,0.4,0.6,0.8,1],"format":".1f","title":"survival rate","labelPadding":7,"titlePadding":20}},
"y2":{"field":"hi"}}},
{"data":{"name":"outer"},"mark":{"type":"line","stroke":"#000","strokeOpacity":0.15,"strokeWidth":0.8,"clip":true},
"encoding":{"x":{"field":"m","type":"quantitative"},"y":{"field":"s","type":"quantitative"},"detail":{"field":"c"}}},
{"data":{"name":"inner"},"mark":{"type":"line","stroke":"#0d2240","strokeOpacity":0.5,"strokeWidth":1.1,"clip":true},
"encoding":{"x":{"field":"m","type":"quantitative"},"y":{"field":"s","type":"quantitative"},"detail":{"field":"c"}}},
{"data":{"name":"median"},"mark":{"type":"line","stroke":"#ffa500","strokeWidth":4,"clip":true},
"encoding":{"x":{"field":"m","type":"quantitative"},"y":{"field":"s","type":"quantitative"}}},
{"data":{"values":[{"note":"Blue band is the 90%"}]},"mark":{"type":"text","text":["Blue band is the 90%","confidence interval"],"align":"left","baseline":"alphabetic","font":"Liberation Sans","fontSize":16,"lineHeight":19,"color":"#000"},
"encoding":{"x":{"datum":1.05},"y":{"datum":0.076}}}
],
"config":{
"font":"Liberation Sans",
"view":{"stroke":"#333","strokeWidth":1},
"axis":{"grid":false,"labelFont":"Liberation Sans","labelFontSize":16,"labelColor":"#000","titleFont":"Liberation Sans","titleFontSize":16,"titleFontWeight":"normal","titleColor":"#000","tickColor":"#333","tickSize":10,"domainColor":"#333","labelFlush":false,"labelOverlap":false}
}
}
